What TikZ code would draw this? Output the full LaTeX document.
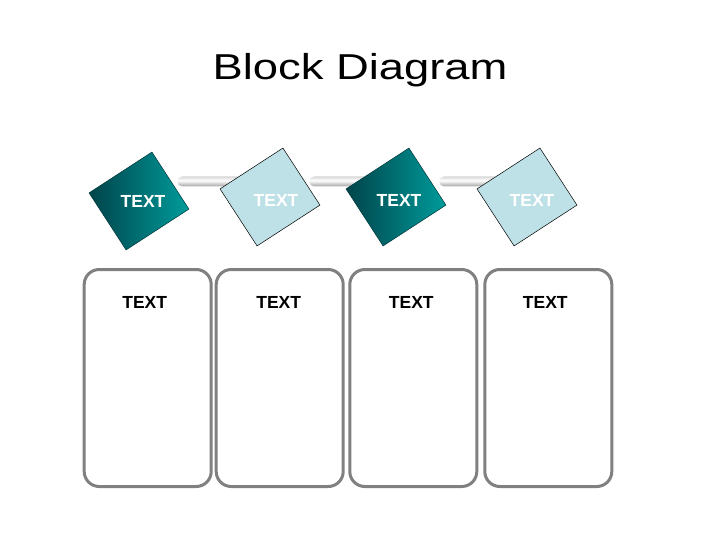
\documentclass[tikz,border=0pt]{standalone}
\usepackage{fontspec}
\setmainfont{Liberation Sans}
\usepackage{tikz}
\usepackage{xcolor}
\usetikzlibrary{positioning}
\definecolor{tealdark}{RGB}{0,68,74}
\definecolor{teallight}{RGB}{0,155,155}
\definecolor{paleblue}{RGB}{189,225,230}
\definecolor{framegray}{RGB}{128,128,128}
\pgfdeclareverticalshading{barshade}{100bp}{color(0bp)=(gray!80); color(30bp)=(gray!60); color(55bp)=(white); color(75bp)=(gray!30); color(100bp)=(gray!40)}

\begin{document}
\begin{tikzpicture}[x=1pt,y=-1pt]
      \useasboundingbox(0,0) rectangle (720,540);
      \tikzset{Bar/.style = {shape=rectangle, rounded corners=5pt, minimum width=80pt, minimum height=10pt, inner sep=0pt, anchor=west,
          shading=barshade}}
      \tikzset{D/.style = {shape=rectangle, rotate=33, minimum width=75pt, minimum height=68pt, inner sep=0pt, draw=black, line width=0.5pt}}
      \tikzset{Ddark/.style = {D, draw=tealdark!80!black, shading=axis, left color=tealdark, right color=teallight}}
      \tikzset{Dpale/.style = {D, fill=paleblue}}
      \tikzset{B/.style = {shape=rectangle, rounded corners=15pt, draw=framegray, line width=3pt, minimum width=127pt, minimum height=217pt, fill=white}}
      \tikzset{T/.style = {text=white, font=\fontsize{17.5}{20}\selectfont\bfseries}}
      \tikzset{TB/.style = {text=black, font=\fontsize{17.5}{20}\selectfont\bfseries}}
      % title
      \node[font=\fontsize{36}{40}\selectfont, xscale=1.26, anchor=base](title) at (360,79.5) {Block Diagram};
      % bars behind the tiles
      \node[Bar](bar1) at (177,181.5) {};
      \node[Bar](bar2) at (309,181.5) {};
      \node[Bar](bar3) at (439,181.5) {};
      % tiles
      \node[Ddark](d1) at (139,201) {};
      \node[Dpale](d2) at (270,197) {};
      \node[Ddark](d3) at (396,197) {};
      \node[Dpale](d4) at (527,197) {};
      \node[T](t1) at ([xshift=4pt]d1) {TEXT};
      \node[T](t2) at ([xshift=6pt,yshift=-3pt]d2) {TEXT};
      \node[T](t3) at ([xshift=3pt,yshift=-3pt]d3) {TEXT};
      \node[T](t4) at ([xshift=5pt,yshift=-3pt]d4) {TEXT};
      % boxes
      \node[B](b1) at (147.7,378) {};
      \node[B](b2) at (279.7,378) {};
      \node[B](b3) at (413.3,378) {};
      \node[B](b4) at (548.3,378) {};
      \node[TB](l1) at ([xshift=-3pt,yshift=-34pt]b1.north) {TEXT};
      \node[TB](l2) at ([xshift=-1pt,yshift=-34pt]b2.north) {TEXT};
      \node[TB](l3) at ([xshift=-2pt,yshift=-34pt]b3.north) {TEXT};
      \node[TB](l4) at ([xshift=-3pt,yshift=-34pt]b4.north) {TEXT};
    \end{tikzpicture}
\end{document}
